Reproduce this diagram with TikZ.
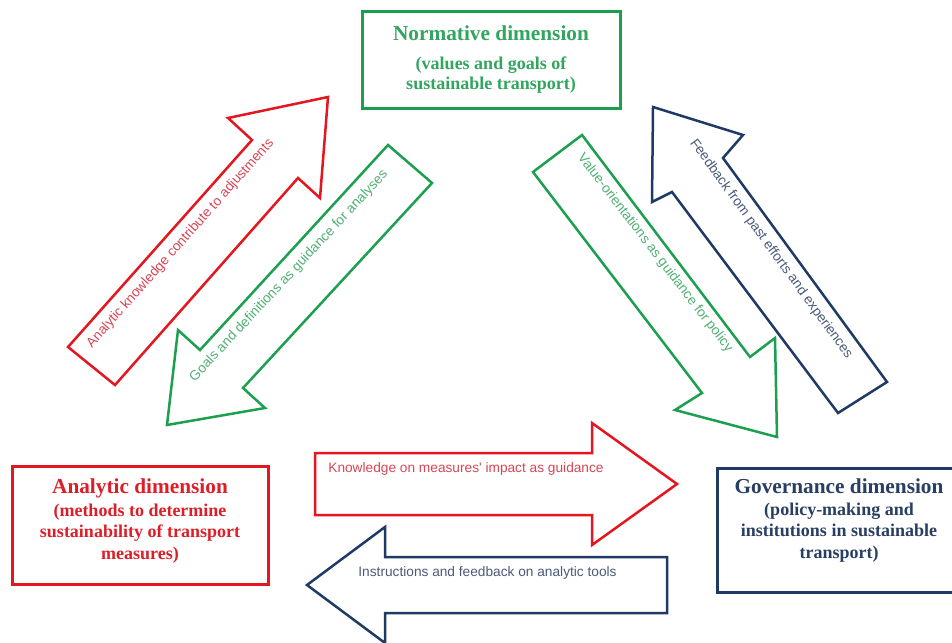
\documentclass[tikz,border=0pt]{standalone}
\usepackage{fontspec}
\setmainfont{Liberation Serif}
\newfontfamily\arrowfont{Liberation Sans}

\definecolor{normgreen}{RGB}{28,160,80}
\definecolor{normtext}{RGB}{50,165,95}
\definecolor{arrgreentext}{RGB}{80,175,115}
\definecolor{anared}{RGB}{228,22,32}
\definecolor{anatext}{RGB}{220,30,40}
\definecolor{arrredtext}{RGB}{215,70,85}
\definecolor{govblue}{RGB}{32,58,102}
\definecolor{govtext}{RGB}{40,62,98}
\definecolor{arrbluetext}{RGB}{75,90,120}

\begin{document}
\begin{tikzpicture}[x=1pt,y=-1pt,
  dimbox/.style={draw, line width=3pt, line join=miter, inner sep=0pt},
  dimtext/.style={align=center, inner sep=0pt, font=\bfseries\fontsize{18}{21.5}\selectfont},
  dimtitle/.style={font=\fontsize{21.3}{21.5}\selectfont},
  blockarrow/.style={line width=2.5pt, line join=miter, fill=white},
  arrowlabel/.style={inner sep=0pt, font=\arrowfont\fontsize{13.7}{16}\selectfont}]
\clip (0,0) rectangle (952,642);
\fill[white] (0,0) rectangle (952,642);

% the three dimensions
\node[dimbox, draw=normgreen, minimum width=258pt, minimum height=96pt] (normbox) at (491,60) {};
\node[dimtext, text=normtext, anchor=north] (normlabel) at (491,26)
  {{\fontsize{21.3}{21.5}\selectfont Normative dimension}\\[7pt]
   (values and goals of\\[-1pt]sustainable transport)};

\node[dimbox, draw=anared, minimum width=256pt, minimum height=118pt] (anabox) at (140,525) {};
\node[dimtext, text=anatext, anchor=north] (analabel) at (140,479)
  {{\fontsize{21.3}{21.5}\selectfont Analytic dimension}\\[1pt]
   (methods to determine\\sustainability of transport\\measures)};

\node[dimbox, draw=govblue, minimum width=244pt, minimum height=124pt] (govbox) at (839,530) {};
\node[dimtext, text=govtext, anchor=north] (govlabel) at (839,479)
  {{\fontsize{21.3}{21.5}\selectfont Governance dimension}\\[0pt]
   (policy-making and\\institutions in sustainable\\transport)};

% analytic -> normative
\draw[blockarrow, draw=anared]
  (68,347) -- (252,140) -- (228,118) -- (328,97) -- (320,198) -- (298,178) -- (115,385) -- cycle;
\node[arrowlabel, text=arrredtext, rotate=48.4] (adjust) at (180.5,243.5)
  {Analytic knowledge contribute to adjustments};

% normative -> analytic
\draw[blockarrow, draw=normgreen]
  (388,145) -- (200,350) -- (178,330) -- (167,425) -- (265,408) -- (243,388) -- (432,183) -- cycle;
\node[arrowlabel, text=arrgreentext, rotate=47] (goals) at (289,276)
  {Goals and definitions as guidance for analyses};

% normative -> governance
\draw[blockarrow, draw=normgreen]
  (533,172) -- (702,393) -- (675,410) -- (777,437) -- (775,338) -- (750,357) -- (582,135) -- cycle;
\node[arrowlabel, text=arrgreentext, rotate=-52.5] (values) at (655,253)
  {Value-orientations as guidance for policy};

% governance -> normative
\draw[blockarrow, draw=govblue]
  (887,382) -- (723,158) -- (743,135) -- (653,107) -- (652,202) -- (672,192) -- (838,413) -- cycle;
\node[arrowlabel, text=arrbluetext, rotate=-54] (feedback) at (771,249)
  {Feedback from past efforts and experiences};

% analytic -> governance
\draw[blockarrow, draw=anared]
  (315,453) -- (592,453) -- (592,423) -- (677,484) -- (592,545) -- (592,515) -- (315,515) -- cycle;
\node[arrowlabel, text=arrredtext, anchor=base] (impact) at (466,472)
  {Knowledge on measures' impact as guidance};

% governance -> analytic
\draw[blockarrow, draw=govblue]
  (667,557) -- (385,557) -- (385,527) -- (307,585) -- (385,643) -- (385,613) -- (667,613) -- cycle;
\node[arrowlabel, text=arrbluetext, anchor=base] (tools) at (487.5,576)
  {Instructions and feedback on analytic tools};
\end{tikzpicture}
\end{document}
